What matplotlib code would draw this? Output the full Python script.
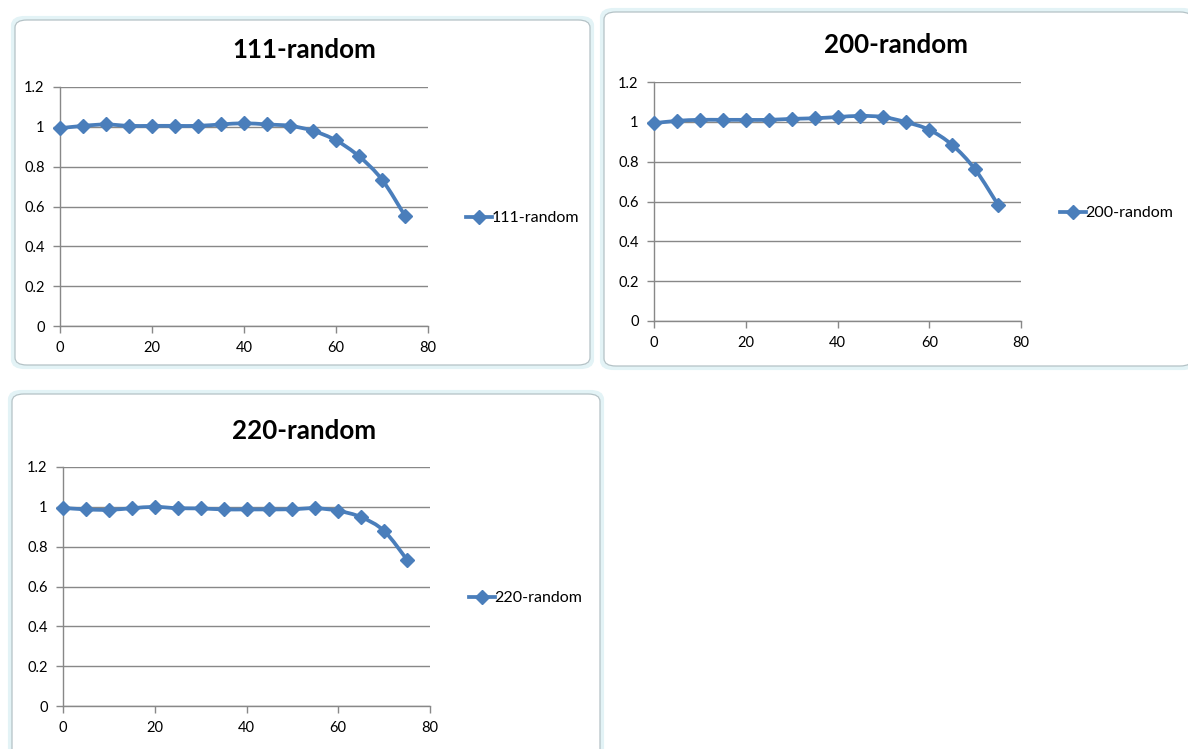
import matplotlib
matplotlib.use("Agg")
import matplotlib.pyplot as plt
from matplotlib.patches import FancyBboxPatch, PathPatch
from matplotlib.path import Path
from matplotlib.lines import Line2D

# ---- data ----
x_vals = [0, 5, 10, 15, 20, 25, 30, 35, 40, 45, 50, 55, 60, 65, 70, 75]
series_111 = [0.993, 1.005, 1.012, 1.005, 1.005, 1.005, 1.005, 1.012, 1.018, 1.012, 1.005,
              0.980, 0.932, 0.852, 0.735, 0.553]
series_200 = [0.993, 1.005, 1.010, 1.010, 1.010, 1.010, 1.015, 1.018, 1.024, 1.030, 1.024,
              0.998, 0.960, 0.884, 0.761, 0.583]
series_220 = [0.995, 0.987, 0.985, 0.993, 1.000, 0.993, 0.992, 0.987, 0.987, 0.987, 0.988,
              0.993, 0.980, 0.948, 0.879, 0.734]
titles = ["111-random", "200-random", "220-random"]
y_ticks = [0, 0.2, 0.4, 0.6, 0.8, 1.0, 1.2]
y_tick_labels = ["0", "0.2", "0.4", "0.6", "0.8", "1", "1.2"]
x_ticks = [0, 20, 40, 60, 80]

W, H = 1188, 749
fig = plt.figure(figsize=(W / 100, H / 100), dpi=100)
fig.patch.set_facecolor("white")

BLUE = "#4A7EBB"
GRID = "#888888"
FONT = ["Lato", "DejaVu Sans"]


def fx(px):
    return px / W


def fy(py):
    return 1 - py / H


def frame(x0, y0, x1, y1):
    fig.patches.append(FancyBboxPatch((fx(x0), fy(y1)), fx(x1 - x0), (y1 - y0) / H,
                                      boxstyle="round,pad=0,rounding_size=0.01",
                                      transform=fig.transFigure, facecolor="white",
                                      edgecolor="#e3f3f6", linewidth=3, zorder=0))
    fig.patches.append(FancyBboxPatch((fx(x0 + 2), fy(y1 - 2)), fx(x1 - x0 - 4), (y1 - y0 - 4) / H,
                                      boxstyle="round,pad=0,rounding_size=0.01",
                                      transform=fig.transFigure, facecolor="white",
                                      edgecolor="#b4c2c6", linewidth=0.9, zorder=0.5))


def smooth_path(xs, ys):
    n = len(xs)
    verts = [(xs[0], ys[0])]
    codes = [Path.MOVETO]
    for i in range(n - 1):
        xm1, ym1 = (xs[i - 1], ys[i - 1]) if i > 0 else (xs[i], ys[i])
        xp2, yp2 = (xs[i + 2], ys[i + 2]) if i + 2 < n else (xs[i + 1], ys[i + 1])
        c1 = (xs[i] + (xs[i + 1] - xm1) / 6, ys[i] + (ys[i + 1] - ym1) / 6)
        c2 = (xs[i + 1] - (xp2 - xs[i]) / 6, ys[i + 1] - (yp2 - ys[i]) / 6)
        verts += [c1, c2, (xs[i + 1], ys[i + 1])]
        codes += [Path.CURVE4] * 3
    return Path(verts, codes)


charts = [
    ((13, 18, 592, 367), (60, 87, 428, 326), (304, 50), (458, 218), series_111, titles[0]),
    ((602, 10, 1194, 368), (654, 82, 1021, 321), (896, 45), (1052, 213), series_200, titles[1]),
    ((10, 392, 602, 760), (63, 467, 430, 706), (304, 431), (461, 598), series_220, titles[2]),
]

LW = 2.7
MS = 7.5

for fr, axp, tpos, lpos, ys, title in charts:
    frame(*fr)
    l, t, r, b = axp
    ax = fig.add_axes([fx(l), fy(b), fx(r - l), (b - t) / H])
    ax.set_zorder(2)
    ax.patch.set_alpha(0)
    ax.set_xlim(0, 80)
    ax.set_ylim(0, 1.2)
    ax.set_yticks(y_ticks)
    ax.set_yticklabels(y_tick_labels)
    ax.set_xticks(x_ticks)
    for s in ["top", "right"]:
        ax.spines[s].set_visible(False)
    for s in ["left", "bottom"]:
        ax.spines[s].set_color(GRID)
        ax.spines[s].set_linewidth(1.0)
    ax.yaxis.grid(True, color=GRID, linewidth=1.0)
    ax.set_axisbelow(True)
    ax.tick_params(axis="both", colors=GRID, length=5, width=1.0, labelcolor="black",
                   labelsize=10.5, pad=6)
    for lab in ax.get_xticklabels() + ax.get_yticklabels():
        lab.set_fontfamily(FONT)
    ax.add_patch(PathPatch(smooth_path(x_vals, ys), facecolor="none", edgecolor=BLUE,
                           linewidth=LW, zorder=3, capstyle="round", joinstyle="round"))
    ax.plot(x_vals, ys, linestyle="none", marker="D", markersize=MS, color=BLUE,
            markeredgecolor=BLUE, zorder=4, clip_on=False)
    fig.text(fx(tpos[0]), fy(tpos[1]), title, ha="center", va="center", fontsize=18.7,
             fontweight="bold", family=FONT)
    handle = Line2D([], [], color=BLUE, linewidth=LW, marker="D", markersize=MS)
    fig.legend([handle], [title], loc="center left",
               bbox_to_anchor=(fx(lpos[0]), fy(lpos[1])), bbox_transform=fig.transFigure,
               frameon=False, handlelength=1.6, handletextpad=0.0, borderpad=0,
               prop={"family": FONT, "size": 11.5})

fig.savefig("out.png", dpi=100, facecolor="white")
